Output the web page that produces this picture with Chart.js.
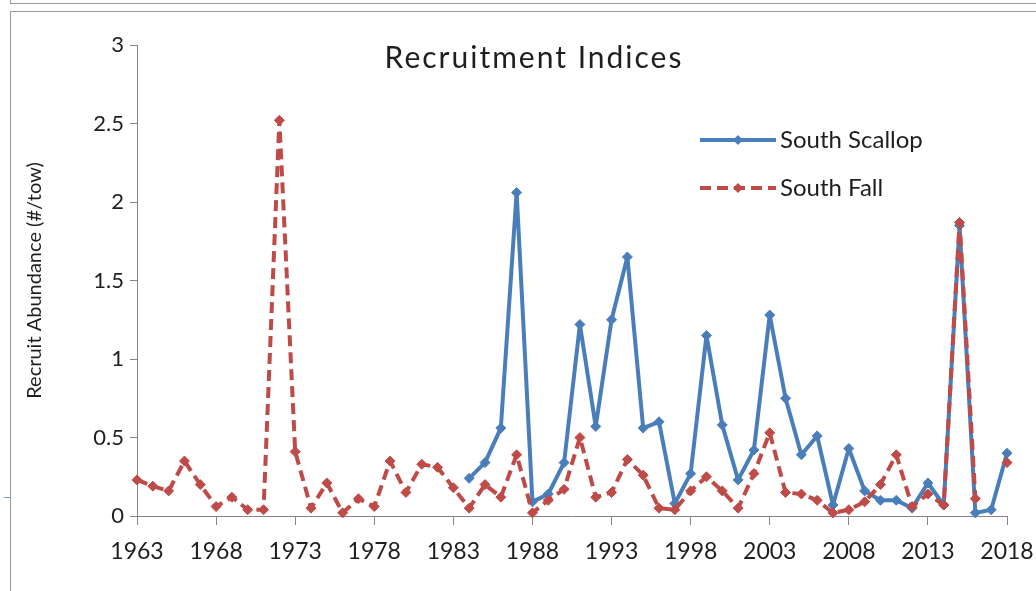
<!DOCTYPE html>
<html>
<head>
<meta charset="utf-8">
<script src="https://cdn.jsdelivr.net/npm/chart.js@4/dist/chart.umd.min.js"></script>
<style>
  html, body { margin: 0; padding: 0; background: #fff; width: 1036px; height: 591px; overflow: hidden; }
  #topbox { position: absolute; left: 10px; top: -2px; width: 1040px; height: 5px; border-left: 1px solid #9a9a9a; border-bottom: 1px solid #9a9a9a; }
  #chartbox { position: absolute; left: 10px; top: 11px; width: 1040px; height: 600px; border-left: 1px solid #9a9a9a; border-top: 1px solid #9a9a9a; }
  #mark { position: absolute; left: 4px; top: 497px; width: 6px; height: 1px; background: #7a9ccc; }
  canvas { position: absolute; left: 11px; top: 12px; }
</style>
</head>
<body>
<div id="topbox"></div>
<div id="chartbox"></div>
<div id="mark"></div>
<canvas id="c" width="1025" height="579"></canvas>
<script>
const years = [1963,1964,1965,1966,1967,1968,1969,1970,1971,1972,1973,1974,1975,1976,1977,1978,1979,1980,1981,1982,1983,1984,1985,1986,1987,1988,1989,1990,1991,1992,1993,1994,1995,1996,1997,1998,1999,2000,2001,2002,2003,2004,2005,2006,2007,2008,2009,2010,2011,2012,2013,2014,2015,2016,2017,2018];

const southScallop = [null,null,null,null,null,null,null,null,null,null,null,null,null,null,null,null,null,null,null,null,null,
  0.24,0.34,0.56,2.06,0.09,0.14,0.34,1.22,0.57,1.25,1.65,0.56,0.60,0.08,0.27,1.15,0.58,0.23,0.42,1.28,0.75,0.39,0.51,0.07,0.43,0.16,0.10,0.10,0.05,0.21,0.07,1.85,0.02,0.04,0.40];

const southFall = [0.23,0.19,0.16,0.35,0.20,0.06,0.12,0.04,0.04,2.52,0.41,0.05,0.21,0.02,0.11,0.06,0.35,0.15,0.33,0.31,0.18,
  0.05,0.20,0.12,0.39,0.02,0.10,0.17,0.50,0.12,0.15,0.36,0.26,0.05,0.04,0.16,0.25,0.16,0.05,0.27,0.53,0.15,0.14,0.10,0.02,0.04,0.09,0.20,0.39,0.06,0.14,0.07,1.87,0.11,null,0.34];

const xTickYears = [1963,1968,1973,1978,1983,1988,1993,1998,2003,2008,2013,2018];
const yTicks = [0,0.5,1,1.5,2,2.5,3];

const seriesNames = ['South Scallop','South Fall'];
const chartTitle = 'Recruitment Indices';
const yTitle = 'Recruit Abundance (#/tow)';

const BLUE = '#4a7ebb';
const RED = '#be4b48';
const AXIS = '#868686';
const TEXT = '#1e1e1e';
const FONT = 'Lato, "Open Sans", sans-serif';

const toPts = arr => years.map((y, i) => ({ x: y, y: arr[i] }));

const overlay = {
  id: 'overlay',
  afterDraw(chart) {
    const ctx = chart.ctx;
    ctx.save();
    // title
    ctx.fillStyle = TEXT;
    ctx.font = '30px ' + FONT;
    ctx.letterSpacing = '2px';
    ctx.textAlign = 'center';
    ctx.textBaseline = 'middle';
    ctx.fillText(chartTitle, 523, 46);
    ctx.letterSpacing = '0px';
    // legend
    const ds = chart.data.datasets;
    const rows = [{ d: ds[0], y: 128 }, { d: ds[1], y: 176 }];
    ctx.font = '24px ' + FONT;
    ctx.textAlign = 'left';
    rows.forEach(r => {
      ctx.strokeStyle = r.d.borderColor;
      ctx.lineWidth = 4;
      ctx.setLineDash(r.d.borderDash || []);
      ctx.beginPath();
      ctx.moveTo(689, r.y);
      ctx.lineTo(765, r.y);
      ctx.stroke();
      ctx.setLineDash([]);
      ctx.fillStyle = r.d.borderColor;
      ctx.beginPath();
      ctx.moveTo(727, r.y - 5);
      ctx.lineTo(732, r.y);
      ctx.lineTo(727, r.y + 5);
      ctx.lineTo(722, r.y);
      ctx.closePath();
      ctx.fill();
      ctx.fillStyle = TEXT;
      ctx.fillText(r.d.label, 769, r.y);
    });
    ctx.restore();
  }
};

new Chart(document.getElementById('c'), {
  type: 'line',
  data: {
    datasets: [
      {
        label: seriesNames[0],
        data: toPts(southScallop),
        borderColor: BLUE,
        backgroundColor: BLUE,
        borderWidth: 4,
        borderJoinStyle: 'round',
        pointStyle: 'rectRot',
        pointRadius: 5,
        pointBorderWidth: 1,
        pointBackgroundColor: BLUE,
        pointBorderColor: BLUE,
        tension: 0,
        spanGaps: false,
        clip: 12,
        order: 2
      },
      {
        label: seriesNames[1],
        data: toPts(southFall),
        borderColor: RED,
        backgroundColor: RED,
        borderWidth: 4,
        borderJoinStyle: 'round',
        borderDash: [11, 6],
        pointStyle: 'rectRot',
        pointRadius: 5,
        pointBorderWidth: 1,
        pointBackgroundColor: RED,
        pointBorderColor: RED,
        tension: 0,
        spanGaps: false,
        clip: 12,
        order: 1
      }
    ]
  },
  options: {
    responsive: false,
    animation: false,
    devicePixelRatio: 1,
    layout: { padding: { left: 0, right: 29, top: 33, bottom: 0 } },
    plugins: { legend: { display: false }, title: { display: false }, tooltip: { enabled: false } },
    scales: {
      x: {
        type: 'linear',
        min: 1963,
        max: 2018,
        afterBuildTicks: s => { s.ticks = xTickYears.map(v => ({ value: v })); },
        afterFit: s => { s.height = 75; s.paddingLeft = 0; s.paddingRight = 0; },
        border: { display: true, color: AXIS, width: 1 },
        grid: { display: true, drawOnChartArea: false, drawTicks: true, tickLength: 9, color: AXIS },
        ticks: {
          color: TEXT, font: { family: FONT, size: 23 }, padding: 13,
          maxRotation: 0, autoSkip: false,
          callback: v => String(v)
        }
      },
      y: {
        min: 0,
        max: 3,
        afterBuildTicks: s => { s.ticks = yTicks.map(v => ({ value: v })); },
        afterFit: s => { s.width = 126; s.paddingTop = 0; s.paddingBottom = 0; },
        border: { display: true, color: AXIS, width: 1 },
        grid: { display: true, drawOnChartArea: false, drawTicks: true, tickLength: 7, color: AXIS },
        title: { display: true, text: yTitle, color: TEXT, font: { family: FONT, size: 20 }, padding: { top: 12, bottom: 0 } },
        ticks: { color: TEXT, font: { family: FONT, size: 22 }, padding: 6, callback: v => String(v) }
      }
    }
  },
  plugins: [overlay]
});
</script>
</body>
</html>
